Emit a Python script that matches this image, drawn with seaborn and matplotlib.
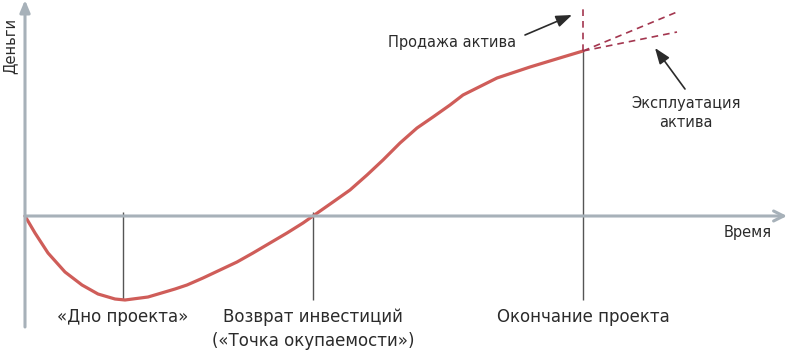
import numpy as np
import pandas as pd
import seaborn as sns
import matplotlib.pyplot as plt

# Project cash curve (time, money) (arbitrary units)
time_pts = [0, 10, 23, 40, 57, 73, 90, 100, 123, 150, 162, 178, 195, 212, 228,
            245, 262, 278, 288, 308, 325, 342, 358, 375, 392, 408, 425, 438,
            472, 505, 538, 558]
money_pts = [0, -17, -37, -56, -69, -78, -83, -84, -81, -73, -69, -62, -54, -46, -37,
             -27, -17, -7, 0, 14, 26, 41, 56, 73, 88, 99, 111, 121,
             138, 149, 159, 165]

# Milestones on the time axis
milestone_t = [98, 288, 558]
milestone_labels = [["«Дно проекта»"],
                    ["Возврат инвестиций", "(«Точка окупаемости»)"],
                    ["Окончание проекта"]]

# Scenarios after the end of the project
end_value = 165
sale_top = 208
exploit_t = 652
exploit_values = [204, 184]

sns.set_theme(style="white")
plt.rcParams["font.family"] = ["DejaVu Sans"]

fig = plt.figure(figsize=(7.9, 3.5), dpi=100)
ax = fig.add_axes([0, 0, 1, 1])
ax.set_xlim(-25, 765)
ax.set_ylim(-134, 216)
ax.axis("off")

axis_col = "#a7b1b9"
curve_col = "#cf5d59"
dash_col = "#a3364f"
ink = "#2b2b2b"

# axes with arrows
ax.annotate("", xy=(0, 216), xytext=(0, -111),
            arrowprops=dict(arrowstyle="-|>,head_length=0.6,head_width=0.25",
                            color=axis_col, lw=2.2, shrinkA=0, shrinkB=0))
ax.annotate("", xy=(762, 0), xytext=(0, 0),
            arrowprops=dict(arrowstyle="->,head_length=0.6,head_width=0.3",
                            color=axis_col, lw=2.2, shrinkA=0, shrinkB=0))

# milestone lines
ax.vlines(milestone_t[:2], -84, 4, color="#555555", lw=1.0)
ax.vlines(milestone_t[2], -84, end_value, color="#555555", lw=1.0)

# main curve
df = pd.DataFrame({"t": time_pts, "m": money_pts})
sns.lineplot(data=df, x="t", y="m", ax=ax, color=curve_col, lw=2.3,
             sort=False, estimator=None, solid_joinstyle="round",
             solid_capstyle="round")

# dashed scenarios
ax.plot([milestone_t[2], milestone_t[2]], [end_value, sale_top],
        ls=(0, (4, 3)), color=dash_col, lw=1.2)
for v in exploit_values:
    ax.plot([milestone_t[2], exploit_t], [end_value, v],
            ls=(0, (4, 3)), color=dash_col, lw=1.2)

# annotations
arrow_kw = dict(arrowstyle="-|>,head_length=0.8,head_width=0.3",
                color=ink, lw=1.2, shrinkA=0, shrinkB=0)
ax.annotate("", xy=(547, 201), xytext=(500, 181), arrowprops=arrow_kw)
ax.annotate("", xy=(630, 168), xytext=(660, 127), arrowprops=arrow_kw)

ax.text(427, 174, "Продажа актива", ha="center", va="center",
        fontsize=10.5, color=ink)
ax.text(661, 103, "Эксплуатация\nактива", ha="center", va="center",
        fontsize=10.5, color=ink, linespacing=1.3)

ax.text(-15, 170, "Деньги", rotation=90, ha="center", va="center",
        fontsize=10.5, color=ink)
ax.text(723, -17, "Время", ha="center", va="center", fontsize=10.5, color=ink)

for t, lines in zip(milestone_t, milestone_labels):
    for i, lab in enumerate(lines):
        ax.text(t, -101 - 24 * i, lab, ha="center", va="center",
                fontsize=12, color=ink)

fig.savefig("out.png", dpi=100)
